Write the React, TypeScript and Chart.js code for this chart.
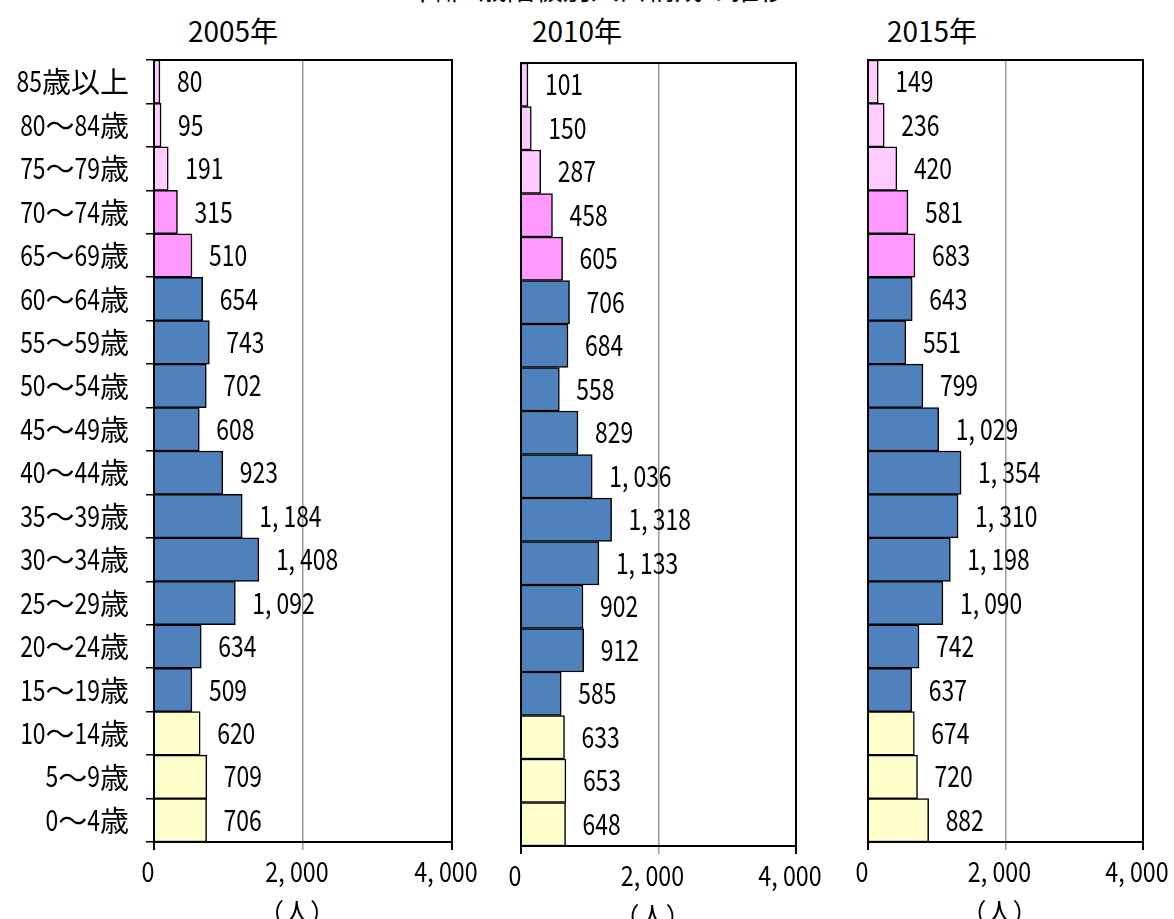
import React, { useEffect, useRef } from "react";
import { Chart, registerables } from "chart.js";

Chart.register(...registerables);

const FONT = '"Noto Sans CJK JP", "Noto Sans", sans-serif';
Chart.defaults.font.family = FONT;

// ---- data (bottom → top) ----
const ageLabels = [
  "0～4歳", "5～9歳", "10～14歳", "15～19歳", "20～24歳", "25～29歳",
  "30～34歳", "35～39歳", "40～44歳", "45～49歳", "50～54歳", "55～59歳",
  "60～64歳", "65～69歳", "70～74歳", "75～79歳", "80～84歳", "85歳以上",
];
const pop2005 = [706, 709, 620, 509, 634, 1092, 1408, 1184, 923, 608, 702, 743, 654, 510, 315, 191, 95, 80];
const pop2010 = [648, 653, 633, 585, 912, 902, 1133, 1318, 1036, 829, 558, 684, 706, 605, 458, 287, 150, 101];
const pop2015 = [882, 720, 674, 637, 742, 1090, 1198, 1310, 1354, 1029, 799, 551, 643, 683, 581, 420, 236, 149];
const yearTitles = ["2005年", "2010年", "2015年"];
const xMin = 0;
const xMax = 4000;
const xStep = 2000;
const unitLabel = "（人）";
const mainTitle = "年齢5歳階級別人口構成の推移";

const COLOR_CHILD = "#ffffcc";
const COLOR_WORK = "#4f81bd";
const COLOR_OLD1 = "#ff99ff";
const COLOR_OLD2 = "#ffccff";

function barColor(i: number): string {
  if (i <= 2) return COLOR_CHILD;
  if (i <= 12) return COLOR_WORK;
  if (i <= 14) return COLOR_OLD1;
  return COLOR_OLD2;
}

function fmt(v: number): string {
  return Math.round(v).toLocaleString("en-US").replace(/,/g, ", ");
}

// ---- text drawing: narrow (condensed) half-width digits + normal CJK ----
type TextStyle = { asciiSize: number; asciiScale: number; cjkSize: number };
const LABEL_STYLE: TextStyle = { asciiSize: 29, asciiScale: 0.79, cjkSize: 29 };
const TICK_STYLE: TextStyle = { asciiSize: 28, asciiScale: 0.83, cjkSize: 26 };

function splitRuns(text: string): { s: string; ascii: boolean }[] {
  const runs: { s: string; ascii: boolean }[] = [];
  for (const ch of text) {
    const ascii = ch.charCodeAt(0) < 128;
    const last = runs[runs.length - 1];
    if (last && last.ascii === ascii) last.s += ch;
    else runs.push({ s: ch, ascii });
  }
  return runs;
}

function measureMixed(ctx: CanvasRenderingContext2D, text: string, st: TextStyle): number {
  let w = 0;
  for (const r of splitRuns(text)) {
    if (r.ascii) {
      ctx.font = `${st.asciiSize}px ${FONT}`;
      w += ctx.measureText(r.s).width * st.asciiScale;
    } else {
      ctx.font = `${st.cjkSize}px ${FONT}`;
      w += ctx.measureText(r.s).width;
    }
  }
  return w;
}

// yCenter is the visual centre of the digits
function drawMixed(
  ctx: CanvasRenderingContext2D,
  text: string,
  x: number,
  yCenter: number,
  align: "left" | "right" | "center",
  st: TextStyle
) {
  const total = measureMixed(ctx, text, st);
  let cx = align === "left" ? x : align === "right" ? x - total : x - total / 2;
  const baseline = yCenter + st.asciiSize * 0.366;
  ctx.save();
  ctx.fillStyle = "#000";
  ctx.textAlign = "left";
  ctx.textBaseline = "alphabetic";
  for (const r of splitRuns(text)) {
    if (r.ascii) {
      ctx.font = `${st.asciiSize}px ${FONT}`;
      const w = ctx.measureText(r.s).width * st.asciiScale;
      ctx.save();
      ctx.translate(cx, baseline);
      ctx.scale(st.asciiScale, 1);
      ctx.fillText(r.s, 0, 0);
      ctx.restore();
      cx += w;
    } else {
      ctx.font = `${st.cjkSize}px ${FONT}`;
      const w = ctx.measureText(r.s).width;
      ctx.fillText(r.s, cx, baseline + st.cjkSize * 0.04);
      cx += w;
    }
  }
  ctx.restore();
}

type PanelLayout = {
  left: number;
  top: number;
  width: number;
  height: number;
  yWidth: number;
  padTop: number;
  padRight: number;
  xHeight: number;
  showY: boolean;
  titleX: number;
};

const panels: PanelLayout[] = [
  { left: 0, top: 0, width: 480, height: 919, yWidth: 154, padTop: 60, padRight: 28, xHeight: 77, showY: true, titleX: 233 },
  { left: 480, top: 0, width: 350, height: 919, yWidth: 41, padTop: 63, padRight: 34, xHeight: 73, showY: false, titleX: 577 },
  { left: 830, top: 0, width: 344, height: 919, yWidth: 38, padTop: 60, padRight: 31, xHeight: 77, showY: false, titleX: 932 },
];
const seriesList = [pop2005, pop2010, pop2015];

const framePlugin = {
  id: "frame",
  afterDatasetsDraw(chart: any) {
    const { ctx, chartArea } = chart;
    ctx.save();
    ctx.strokeStyle = "#000";
    ctx.lineWidth = 2;
    ctx.beginPath();
    ctx.moveTo(chartArea.left, chartArea.top);
    ctx.lineTo(chartArea.right, chartArea.top);
    ctx.lineTo(chartArea.right, chartArea.bottom);
    ctx.stroke();
    ctx.restore();
  },
};

const textPlugin = {
  id: "texts",
  afterDraw(chart: any) {
    const { ctx, chartArea } = chart;
    const meta = chart.getDatasetMeta(0);
    const data = chart.data.datasets[0].data as number[];
    // value labels
    meta.data.forEach((el: any, i: number) => {
      drawMixed(ctx, fmt(data[i]), el.x + 17, el.y, "left", LABEL_STYLE);
    });
    // category labels (left axis)
    const ys = chart.scales.y;
    if (chart.options.plugins.texts && chart.options.plugins.texts.showY) {
      const labels = chart.data.labels as string[];
      labels.forEach((lab, i) => {
        drawMixed(ctx, lab, chartArea.left - 25, ys.getPixelForTick(i), "right", LABEL_STYLE);
      });
    }
    // x tick labels
    const xs = chart.scales.x;
    xs.ticks.forEach((t: any) => {
      drawMixed(ctx, fmt(t.value), xs.getPixelForValue(t.value) - 6, chartArea.bottom + 30, "center", TICK_STYLE);
    });
    // unit label
    drawMixed(ctx, unitLabel, xs.getPixelForValue(xStep) - 6, chartArea.bottom + 69, "center", TICK_STYLE);
  },
};

function Panel({ layout, values }: { layout: PanelLayout; values: number[] }) {
  const ref = useRef<HTMLCanvasElement | null>(null);
  useEffect(() => {
    if (!ref.current) return;
    const chart = new Chart(ref.current, {
      type: "bar",
      data: {
        labels: ageLabels,
        datasets: [
          {
            data: values,
            backgroundColor: values.map((_, i) => barColor(i)),
            borderColor: "#000",
            borderWidth: 1.5,
            barPercentage: 1,
            categoryPercentage: 1,
          },
        ],
      },
      options: {
        indexAxis: "y",
        responsive: false,
        animation: false,
        layout: { padding: { left: 0, right: layout.padRight, top: layout.padTop, bottom: 0 } },
        plugins: {
          legend: { display: false },
          tooltip: { enabled: false },
          title: { display: false },
          texts: { showY: layout.showY },
        },
        scales: {
          x: {
            min: xMin,
            max: xMax,
            ticks: {
              stepSize: xStep,
              display: false,
              maxRotation: 0,
              autoSkip: false,
            },
            grid: {
              drawOnChartArea: true,
              drawTicks: true,
              tickLength: 8,
              color: (c: any) => (c.tick && c.tick.value === xStep ? "#9a9a9a" : "#000"),
              lineWidth: (c: any) => (c.tick && c.tick.value === xStep ? 1.5 : 2),
            },
            border: { color: "#000", width: 2 },
            afterFit: (s: any) => {
              s.height = layout.xHeight;
              s.paddingLeft = 0;
              s.paddingRight = 0;
            },
          },
          y: {
            reverse: true,
            ticks: { display: false, autoSkip: false },
            grid: {
              drawOnChartArea: false,
              drawTicks: layout.showY,
              tickLength: 8,
              color: "#000",
              lineWidth: 1.5,
              offset: true,
            },
            border: { color: "#000", width: 2 },
            afterFit: (s: any) => {
              s.width = layout.yWidth;
              s.paddingTop = 0;
              s.paddingBottom = 0;
            },
          },
        },
      } as any,
      plugins: [framePlugin, textPlugin],
    });
    return () => chart.destroy();
  }, [layout, values]);
  return (
    <canvas
      ref={ref}
      width={layout.width}
      height={layout.height}
      style={{ position: "absolute", left: layout.left, top: layout.top, width: layout.width, height: layout.height }}
    />
  );
}

export default function App() {
  return (
    <div
      style={{
        position: "absolute",
        left: 0,
        top: 0,
        width: 1174,
        height: 919,
        overflow: "hidden",
        background: "#fff",
        fontFamily: FONT,
        color: "#000",
      }}
    >
      <div
        style={{
          position: "absolute",
          left: 597,
          top: -26,
          transform: "translateX(-50%)",
          fontSize: 28,
          lineHeight: 1,
          whiteSpace: "nowrap",
        }}
      >
        {mainTitle}
      </div>
      {panels.map((p, i) => (
        <React.Fragment key={i}>
          <div
            style={{
              position: "absolute",
              left: p.titleX,
              top: 16,
              transform: "translateX(-50%)",
              fontSize: 28,
              lineHeight: 1,
              whiteSpace: "nowrap",
            }}
          >
            {yearTitles[i]}
          </div>
          <Panel layout={p} values={seriesList[i]} />
        </React.Fragment>
      ))}
    </div>
  );
}
